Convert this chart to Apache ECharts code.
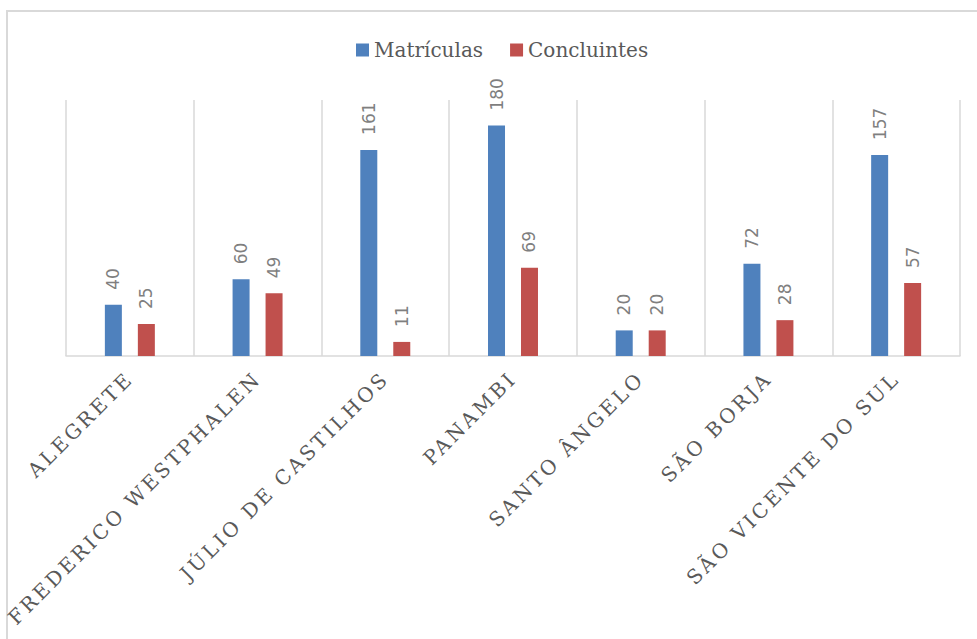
<!DOCTYPE html>
<html>
<head>
<meta charset="utf-8">
<script src="https://cdn.jsdelivr.net/npm/echarts@6/dist/echarts.min.js"></script>
<style>
  html, body { margin: 0; padding: 0; background: #ffffff; }
  #chart { width: 977px; height: 639px; }
</style>
</head>
<body>
<div id="chart"></div>
<script>
// Campus names and enrolment / graduate counts
const campi = ['ALEGRETE', 'FREDERICO WESTPHALEN', 'JÚLIO DE CASTILHOS', 'PANAMBI', 'SANTO ÂNGELO', 'SÃO BORJA', 'SÃO VICENTE DO SUL'];
const matriculas = [40, 60, 161, 180, 20, 72, 157];
const concluintes = [25, 49, 11, 69, 20, 28, 57];
const seriesNames = ['Matrículas', 'Concluintes'];

const chart = echarts.init(document.getElementById('chart'), null, { renderer: 'svg' });

const valueLabel = {
  show: true,
  position: 'top',
  rotate: 90,
  align: 'left',
  verticalAlign: 'middle',
  distance: 15,
  color: '#7f7f7f',
  fontFamily: 'DejaVu Sans',
  fontSize: 17
};

chart.setOption({
  animation: false,
  backgroundColor: '#ffffff',
  graphic: [{
    type: 'rect',
    shape: { x: 7, y: 11, width: 1000, height: 700 },
    style: { fill: 'none', stroke: '#d9d9d9', lineWidth: 2 },
    silent: true,
    z: -1
  }],
  legend: {
    left: 351,
    top: 35,
    itemWidth: 13,
    itemHeight: 13,
    itemGap: 27,
    icon: 'rect',
    textStyle: { fontFamily: 'DejaVu Serif', fontSize: 20, color: '#595959' },
    data: seriesNames
  },
  grid: { left: 66, right: 17, top: 100, bottom: 283, containLabel: false },
  xAxis: {
    type: 'category',
    data: campi,
    axisTick: { show: false },
    axisLine: { lineStyle: { color: '#d9d9d9', width: 1.5 } },
    splitLine: { show: true, lineStyle: { color: '#d9d9d9', width: 1.5 } },
    axisLabel: {
      interval: 0,
      rotate: 45,
      margin: 19,
      color: '#595959',
      fontFamily: 'DejaVu Serif',
      fontSize: 20
    }
  },
  yAxis: {
    type: 'value',
    min: 0,
    max: 200,
    show: false,
    splitLine: { show: false }
  },
  series: [
    {
      name: seriesNames[0],
      type: 'bar',
      data: matriculas,
      barWidth: 17,
      barGap: '94%',
      itemStyle: { color: '#4f81bd' },
      label: valueLabel
    },
    {
      name: seriesNames[1],
      type: 'bar',
      data: concluintes,
      barWidth: 17,
      itemStyle: { color: '#c0504d' },
      label: valueLabel
    }
  ]
});

// Tracked capitals for the campus names
function spaceCampusLabels() {
  document.querySelectorAll('#chart text').forEach(t => {
    if (campi.includes(t.textContent)) {
      t.setAttribute('letter-spacing', '3');
    }
  });
}
chart.on('finished', spaceCampusLabels);
spaceCampusLabels();
setTimeout(spaceCampusLabels, 50);
</script>
</body>
</html>
